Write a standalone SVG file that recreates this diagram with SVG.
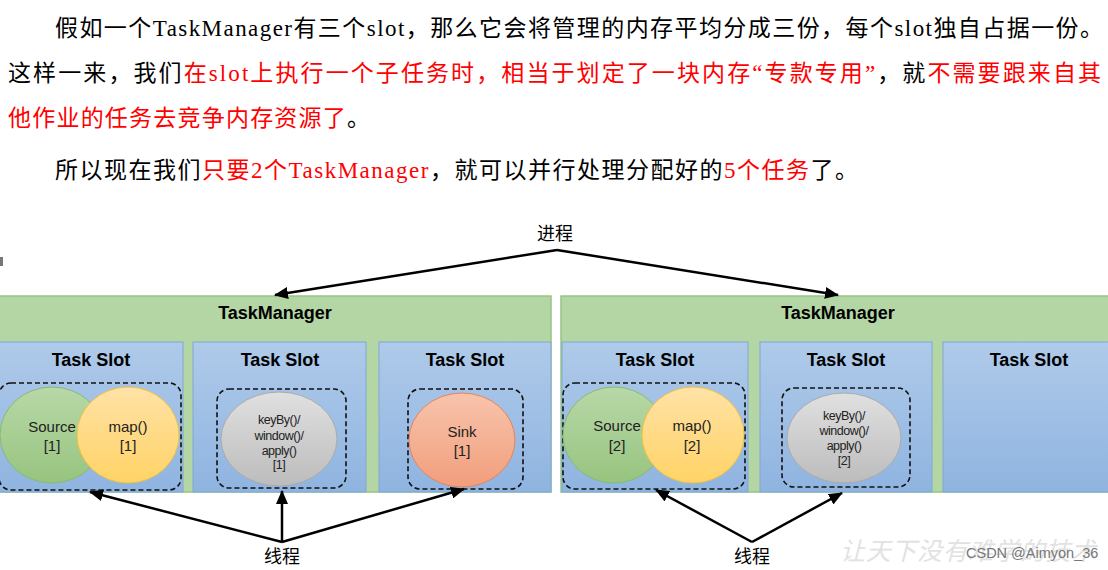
<svg xmlns="http://www.w3.org/2000/svg" width="1108" height="570" viewBox="0 0 1108 570">
<style>
.para{font-family:"Liberation Serif","Noto Sans CJK SC",serif;font-size:23px;fill:#000}
.red{fill:#ff0000}
.tm{fill:#b4d5a4;stroke:#98c584;stroke-width:1.5}
.slot{fill:url(#gSlot);stroke:#7fa8d6;stroke-width:1}
.dash{fill:none;stroke:#111;stroke-width:1.6;stroke-dasharray:5,3}
.h{font-family:"Liberation Sans",Arial,sans-serif;font-weight:bold;font-size:18px;fill:#000;text-anchor:middle}
.e{font-family:"Liberation Sans",Arial,sans-serif;font-size:15px;fill:#222;text-anchor:middle}
.k{font-family:"Liberation Sans",Arial,sans-serif;font-size:12.5px;fill:#222;text-anchor:middle;letter-spacing:-0.5px}
.lbl{font-family:"Noto Sans CJK SC",sans-serif;font-size:18px;fill:#000;text-anchor:middle}
.arr{stroke:#000;stroke-width:2.5;fill:none;marker-end:url(#ah)}
</style>
<defs>
<linearGradient id="gSlot" x1="0" y1="0" x2="0" y2="1"><stop offset="0" stop-color="#afcaea"/><stop offset="1" stop-color="#8fb4e0"/></linearGradient>
<linearGradient id="gGreen" x1="0" y1="0" x2="0" y2="1"><stop offset="0" stop-color="#b8d8a8"/><stop offset="1" stop-color="#97c47f"/></linearGradient>
<linearGradient id="gYellow" x1="0" y1="0" x2="0" y2="1"><stop offset="0" stop-color="#ffe2a6"/><stop offset="1" stop-color="#ffd366"/></linearGradient>
<linearGradient id="gRed" x1="0" y1="0" x2="0" y2="1"><stop offset="0" stop-color="#f8c4ac"/><stop offset="1" stop-color="#f19e7c"/></linearGradient>
<linearGradient id="gGray" x1="0" y1="0" x2="0" y2="1"><stop offset="0" stop-color="#e0e0e0"/><stop offset="1" stop-color="#bcbcbc"/></linearGradient>
<marker id="ah" markerUnits="userSpaceOnUse" markerWidth="14" markerHeight="12" viewBox="0 0 14 12" refX="13" refY="6" orient="auto"><path d="M0,0 L14,6 L0,12 Z" fill="#000"/></marker>
</defs>
<rect width="1108" height="570" fill="#fff"/>

<g id="paragraph">
<text class="para" x="55" y="36" textLength="1048" lengthAdjust="spacing">假如一个TaskManager有三个slot，那么它会将管理的内存平均分成三份，每个slot独自占据一份。</text>
<text class="para" x="8" y="81" textLength="1093" lengthAdjust="spacing">这样一来，我们<tspan class="red">在slot上执行一个子任务时，相当于划定了一块内存“专款专用”</tspan>，就<tspan class="red">不需要跟来自其</tspan></text>
<text class="para" x="8" y="126" textLength="362" lengthAdjust="spacing"><tspan class="red">他作业的任务去竞争内存资源了</tspan>。</text>
<text class="para" x="55" y="178" textLength="803" lengthAdjust="spacing">所以现在我们<tspan class="red">只要2个TaskManager</tspan>，就可以并行处理分配好的<tspan class="red">5个任务</tspan>了。</text>
</g>

<rect x="0" y="257" width="3" height="9" fill="#777"/>

<g id="taskmanager1">
<rect class="tm" x="-2" y="296" width="553" height="196"/>
<text class="h" x="275" y="319">TaskManager</text>
</g>
<g id="taskmanager2">
<rect class="tm" x="561" y="296" width="560" height="196"/>
<text class="h" x="838" y="319">TaskManager</text>
</g>

<g id="slot1">
<rect class="slot" x="-1" y="342" width="184" height="150"/>
<text class="h" x="91" y="366">Task Slot</text>
<rect class="dash" x="-1" y="383" width="182" height="107" rx="12"/>
<ellipse cx="52" cy="435" rx="52" ry="48" fill="url(#gGreen)" stroke="#88bb6c" stroke-width="1"/>
<text class="e" x="52" y="432">Source</text><text class="e" x="52" y="451">[1]</text>
<ellipse cx="128" cy="435" rx="51" ry="48" fill="url(#gYellow)" stroke="#f2c23c" stroke-width="1"/>
<text class="e" x="128" y="432">map()</text><text class="e" x="128" y="451">[1]</text>
</g>

<g id="slot2">
<rect class="slot" x="193" y="342" width="173" height="150"/>
<text class="h" x="280" y="366">Task Slot</text>
<rect class="dash" x="217" y="389" width="129" height="99" rx="12"/>
<ellipse cx="279" cy="439" rx="58" ry="47" fill="url(#gGray)" stroke="#aaa" stroke-width="1"/>
<text class="k" x="279" y="424">keyBy()/</text><text class="k" x="279" y="440">window()/</text><text class="k" x="279" y="455">apply()</text><text class="k" x="279" y="469">[1]</text>
</g>

<g id="slot3">
<rect class="slot" x="379" y="342" width="172" height="150"/>
<text class="h" x="465" y="366">Task Slot</text>
<rect class="dash" x="408" y="389" width="115" height="100" rx="12"/>
<ellipse cx="462" cy="440" rx="53" ry="47" fill="url(#gRed)" stroke="#e8825c" stroke-width="1"/>
<text class="e" x="462" y="437">Sink</text><text class="e" x="462" y="456">[1]</text>
</g>

<g id="slot4">
<rect class="slot" x="562" y="342" width="186" height="150"/>
<text class="h" x="655" y="366">Task Slot</text>
<rect class="dash" x="563" y="383" width="182" height="106" rx="12"/>
<ellipse cx="614" cy="435" rx="51" ry="48" fill="url(#gGreen)" stroke="#88bb6c" stroke-width="1"/>
<text class="e" x="617" y="431">Source</text><text class="e" x="617" y="451">[2]</text>
<ellipse cx="693" cy="435" rx="51" ry="48" fill="url(#gYellow)" stroke="#f2c23c" stroke-width="1"/>
<text class="e" x="692" y="431">map()</text><text class="e" x="692" y="451">[2]</text>
</g>

<g id="slot5">
<rect class="slot" x="760" y="342" width="172" height="150"/>
<text class="h" x="846" y="366">Task Slot</text>
<rect class="dash" x="782" y="388" width="128" height="99" rx="12"/>
<ellipse cx="844" cy="438" rx="57" ry="45" fill="url(#gGray)" stroke="#aaa" stroke-width="1"/>
<text class="k" x="844" y="420">keyBy()/</text><text class="k" x="844" y="435">window()/</text><text class="k" x="844" y="450">apply()</text><text class="k" x="844" y="465">[2]</text>
</g>

<g id="slot6">
<rect class="slot" x="943" y="342" width="170" height="150"/>
<text class="h" x="1029" y="366">Task Slot</text>
</g>

<g id="labels">
<text class="lbl" x="555" y="240">进程</text>
<text class="lbl" x="282" y="563">线程</text>
<text class="lbl" x="752" y="563">线程</text>
</g>

<g id="connectors">
<path class="arr" d="M557,250 L275,295"/>
<path class="arr" d="M557,250 L838,295"/>
<path class="arr" d="M282,542 L90,492"/>
<path class="arr" d="M282,542 L282,491"/>
<path class="arr" d="M282,542 L464,489"/>
<path class="arr" d="M752,542 L656,490"/>
<path class="arr" d="M752,542 L842,493"/>
</g>

<g id="watermark">
<text x="840" y="560" font-family="'Noto Sans CJK SC',sans-serif" font-size="25" fill="#e2e2e2" textLength="256" lengthAdjust="spacing" font-style="italic">让天下没有难学的技术</text>
<text x="966" y="558" font-family="'Liberation Sans',Arial,sans-serif" font-size="14.5" fill="#777">CSDN @Aimyon_36</text>
</g>
</svg>
